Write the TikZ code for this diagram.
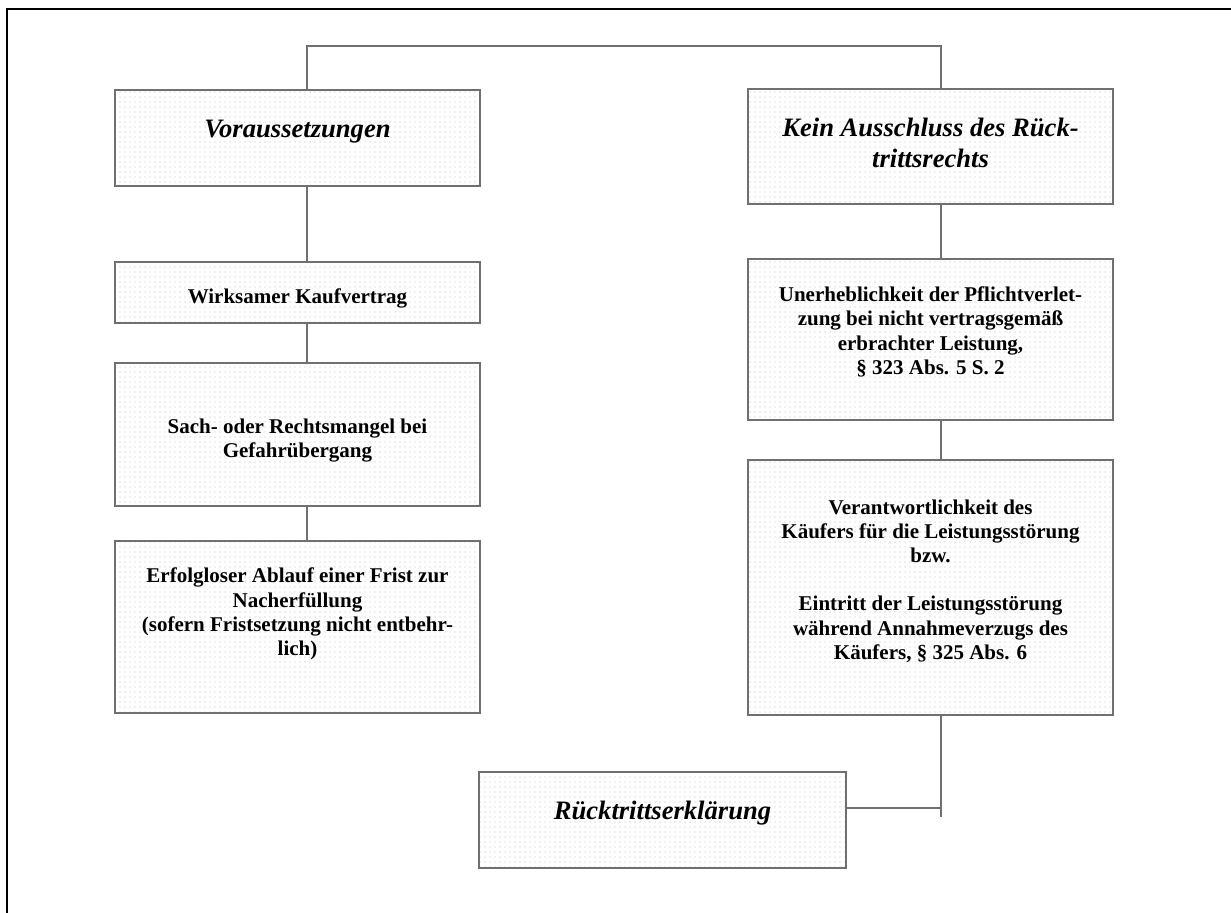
\documentclass[tikz,border=0pt]{standalone}
\usepackage{fontspec}
\setmainfont{Liberation Serif}
\usetikzlibrary{patterns.meta}
\definecolor{rule}{HTML}{707070}
\begin{document}
\begin{tikzpicture}[x=0.5pt,y=-0.5pt,
  panel/.style={draw=rule, line width=1pt,
    pattern={Dots[distance=2.5pt,radius=0.35pt]}, pattern color=black!28,
    minimum width=182.5pt, inner sep=0pt},
  link/.style={draw=rule, line width=1pt},
  head/.style={font=\bfseries\itshape\fontsize{13.3}{15.5}\selectfont, align=center, inner sep=0pt},
  body/.style={font=\bfseries\fontsize{10.5}{12.1}\selectfont, align=center, inner sep=0pt}]
\useasboundingbox (0,0) rectangle (1231,912);
% outer frame
\draw[line width=1pt] (7,930) -- (7,9) -- (1250,9);

% left column
\node[panel, minimum height=48pt] (vor) at (297.5,138) {};
\node[head] (tvor) at (297.5,132) {Voraussetzungen};
\node[panel, minimum height=30.5pt] (wirk) at (297.5,292.5) {};
\node[body] (twirk) at (297.5,298) {Wirksamer Kaufvertrag};
\node[panel, minimum height=71.5pt] (sach) at (297.5,434.5) {};
\node[body] (tsach) at (297.5,440.5) {Sach- oder Rechtsmangel bei\\Gefahrübergang};
\node[panel, minimum height=86pt] (erf) at (297.5,627) {};
\node[body] (terf) at (297.5,614) {Erfolgloser Ablauf einer Frist zur\\Nacherfüllung\\(sofern Fristsetzung nicht entbehr-\\lich)};

% right column
\node[panel, minimum height=57.5pt] (kein) at (930.5,146.5) {};
\node[head] (tkein) at (930.5,142.5) {Kein Ausschluss des Rück-\\trittsrechts};
\node[panel, minimum height=80.5pt] (uner) at (930.5,339.5) {};
\node[body] (tuner) at (930.5,332) {Unerheblichkeit der Pflichtverlet-\\zung bei nicht vertragsgemäß\\erbrachter Leistung,\\§ 323 Abs. 5 S. 2};
\node[panel, minimum height=127.5pt] (ver) at (930.5,587.5) {};
\node[body] (tver) at (930.5,581) {Verantwortlichkeit des\\Käufers für die Leistungsstörung\\bzw.\\[12.1pt]Eintritt der Leistungsstörung\\während Annahmeverzugs des\\Käufers, § 325 Abs. 6};

% declaration at the bottom
\node[panel, minimum width=183.5pt, minimum height=48pt] (rueck) at (662.5,820) {};
\node[head] (trueck) at (662.5,813.5) {Rücktrittserklärung};

% connectors
\coordinate (lx) at (307,0);
\coordinate (rx) at (941,0);
\coordinate (topbar) at (0,46);
\coordinate (join) at (941,808);
\coordinate (tail) at (941,817);
\draw[link] (vor.north -| lx) -- (lx |- topbar) -- (rx |- topbar) -- (kein.north -| rx);
\draw[link] (vor.south -| lx) -- (wirk.north -| lx);
\draw[link] (wirk.south -| lx) -- (sach.north -| lx);
\draw[link] (sach.south -| lx) -- (erf.north -| lx);
\draw[link] (kein.south -| rx) -- (uner.north -| rx);
\draw[link] (uner.south -| rx) -- (ver.north -| rx);
\draw[link] (ver.south -| rx) -- (tail);
\draw[link] (rueck.east |- join) -- (join);
\end{tikzpicture}
\end{document}
